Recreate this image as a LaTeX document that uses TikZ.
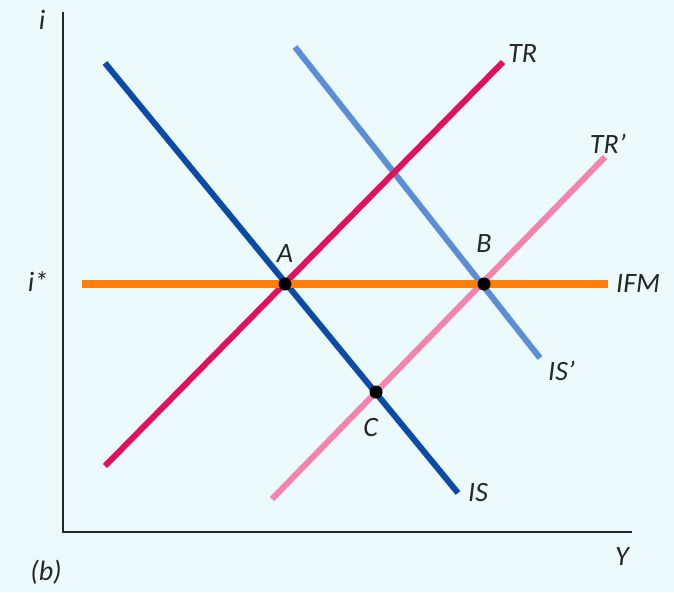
\documentclass[tikz,border=0pt]{standalone}
\usepackage{fontspec}
\setmainfont{Carlito}
\usetikzlibrary{positioning}
\definecolor{bgcyan}{HTML}{EDFAFC}
\definecolor{isblue}{HTML}{0A4BA8}
\definecolor{isbluelt}{HTML}{5B8ED6}
\definecolor{trred}{HTML}{E0115F}
\definecolor{trpink}{HTML}{F284AE}
\definecolor{ifmorange}{HTML}{FF7F0A}
\definecolor{labgray}{HTML}{262626}
\tikzset{
  curve/.style   = {line width=6pt, line cap=butt},
  flatline/.style = {line width=8.5pt, line cap=butt, draw=ifmorange},
  axisline/.style = {line width=1.8pt, draw=labgray},
  eqdot/.style   = {circle, fill=black, minimum size=13pt, inner sep=0pt},
  tag/.style     = {font=\fontsize{28}{32}\selectfont\itshape, text=labgray,
                    inner sep=1pt},
}
\begin{document}
\begin{tikzpicture}[x=1pt, y=-1pt]
  \fill[bgcyan] (0,0) rectangle (674,592);
  \useasboundingbox (0,0) rectangle (674,592);
  % axes
  \coordinate (top) at (63,12);
  \coordinate (orig) at (63,532);
  \coordinate (right) at (632,532);
  \draw[axisline] (top) -- (orig) -- (right);
  \node[tag] (ilab) at (42,20) {i};
  \node[tag] (istar) at (38,282) {i*};
  \node[tag] (ylab) at (622,557) {Y};
  \node[tag] (panel) at (46,572) {(b)};
  % curve end points
  \coordinate (ISa) at (105,63);   \coordinate (ISb) at (458,493);
  \coordinate (ISpa) at (295,47);  \coordinate (ISpb) at (540,358);
  \coordinate (TRa) at (105,466);  \coordinate (TRb) at (503,62);
  \coordinate (TRpa) at (272,499); \coordinate (TRpb) at (605,157);
  \coordinate (IFMa) at (82,284);  \coordinate (IFMb) at (608,284);
  % curves
  \draw[curve, isbluelt] (ISpa) -- (ISpb);
  \draw[curve, isblue] (ISa) -- (ISb);
  \draw[curve, trpink] (TRpa) -- (TRpb);
  \draw[curve, trred] (TRa) -- (TRb);
  \draw[flatline] (IFMa) -- (IFMb);
  % curve labels
  \node[tag, above right=-2pt and 4pt of TRb] (TRlab) {TR};
  \node[tag, above left=2pt and -22pt of TRpb] (TRplab) {TR’};
  \node[tag, right=7pt of IFMb] (IFMlab) {IFM};
  \node[tag, below right=2pt and 7pt of ISpb] (ISplab) {IS’};
  \node[tag, right=9pt of ISb] (ISlab) {IS};
  % equilibria
  \node[eqdot] (A) at (285,284) {};
  \node[eqdot] (B) at (484,284) {};
  \node[eqdot] (C) at (376,392) {};
  \node[tag, above=14pt of A] (Alab) {A};
  \node[tag, above=24pt of B] (Blab) {B};
  \node[tag, below left=20pt and -8pt of C] (Clab) {C};
\end{tikzpicture}
\end{document}
